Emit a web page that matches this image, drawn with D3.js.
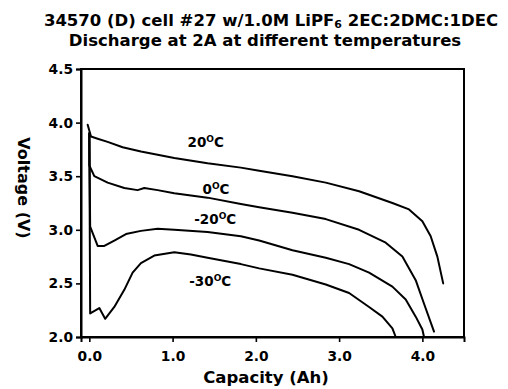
<!DOCTYPE html>
<html>
<head>
<meta charset="utf-8">
<script src="https://cdn.jsdelivr.net/npm/d3@7"></script>
<style>
  html, body { margin: 0; padding: 0; background: #fff; }
  text { font-family: "DejaVu Sans", sans-serif; font-weight: bold; fill: #000; }
</style>
</head>
<body>
<svg id="chart" width="508" height="389"></svg>
<script>
// ---- data ----
const cap20 = [-0.02, 0.02, 0.10, 0.22, 0.40, 0.62, 1.02, 1.42, 1.82, 2.04, 2.44, 2.84, 3.24, 3.64, 3.84, 4.00, 4.10, 4.18, 4.25];
const v20   = [3.98, 3.87, 3.85, 3.82, 3.77, 3.73, 3.67, 3.62, 3.58, 3.55, 3.50, 3.44, 3.36, 3.25, 3.19, 3.08, 2.94, 2.75, 2.50];

const cap0  = [0.00, 0.00, 0.06, 0.22, 0.42, 0.58, 0.66, 0.82, 1.02, 1.42, 1.82, 2.04, 2.44, 2.84, 3.24, 3.56, 3.76, 3.92, 4.02, 4.14];
const v0    = [3.90, 3.60, 3.50, 3.44, 3.39, 3.37, 3.39, 3.37, 3.34, 3.30, 3.24, 3.21, 3.16, 3.10, 3.00, 2.88, 2.75, 2.53, 2.31, 2.05];

const capM20 = [0.00, 0.01, 0.10, 0.18, 0.30, 0.44, 0.62, 0.82, 1.02, 1.42, 1.82, 2.04, 2.44, 2.84, 3.12, 3.36, 3.64, 3.80, 3.92, 4.00, 4.02];
const vM20   = [3.90, 3.03, 2.85, 2.85, 2.90, 2.96, 2.99, 3.01, 3.00, 2.98, 2.94, 2.90, 2.81, 2.74, 2.68, 2.60, 2.47, 2.35, 2.19, 2.07, 2.00];

const capM30 = [0.00, 0.01, 0.12, 0.19, 0.30, 0.42, 0.52, 0.62, 0.78, 1.02, 1.22, 1.42, 1.82, 2.04, 2.44, 2.84, 3.12, 3.36, 3.52, 3.64, 3.68];
const vM30   = [3.90, 2.22, 2.27, 2.17, 2.28, 2.44, 2.60, 2.69, 2.76, 2.79, 2.77, 2.74, 2.68, 2.64, 2.58, 2.49, 2.41, 2.28, 2.19, 2.08, 2.00];

const seriesNames = ["20", "0", "-20", "-30"];
const labelCap = [1.18, 1.36, 1.26, 1.20];
const labelVolt = [3.77, 3.33, 3.05, 2.48];

const xTicks = [0, 1, 2, 3, 4];
const yTicks = [2.0, 2.5, 3.0, 3.5, 4.0, 4.5];
const xDomain = [-0.1, 4.5];
const yDomain = [2.0, 4.5];

// ---- drawing ----
const svg = d3.select("#chart");
const plotLeft = 81, plotRight = 464, plotTop = 69, plotBottom = 337;

const x = d3.scaleLinear().domain(xDomain).range([plotLeft, plotRight]);
const y = d3.scaleLinear().domain(yDomain).range([plotBottom, plotTop]);

// frame
svg.append("rect")
  .attr("x", plotLeft).attr("y", plotTop)
  .attr("width", plotRight - plotLeft).attr("height", plotBottom - plotTop)
  .attr("fill", "none").attr("stroke", "#000").attr("stroke-width", 2);

// axes
const yAxis = d3.axisLeft(y).tickValues(yTicks).tickFormat(d3.format(".1f")).tickSize(5).tickPadding(3);
const xAxis = d3.axisBottom(x).tickValues(xTicks).tickFormat(d3.format(".1f")).tickSize(5).tickPadding(9);

const gy = svg.append("g").attr("transform", `translate(${plotLeft},0)`).call(yAxis);
const gx = svg.append("g").attr("transform", `translate(0,${plotBottom})`).call(xAxis);
[gx, gy].forEach(g => {
  g.select(".domain").attr("stroke", "#000").attr("stroke-width", 2);
  g.selectAll(".tick line").attr("stroke", "#000").attr("stroke-width", 1.6);
  g.selectAll(".tick text").style("font-family", "'DejaVu Sans', sans-serif")
    .style("font-weight", "bold").style("font-size", "13.8px").attr("fill", "#000");
});

// curves
const series = [
  { name: seriesNames[0], cap: cap20, v: v20 },
  { name: seriesNames[1], cap: cap0, v: v0 },
  { name: seriesNames[2], cap: capM20, v: vM20 },
  { name: seriesNames[3], cap: capM30, v: vM30 }
];
const line = d3.line().x(d => x(d[0])).y(d => y(d[1])).curve(d3.curveLinear);
svg.append("g").selectAll("path").data(series).join("path")
  .attr("d", s => line(s.cap.map((c, i) => [c, s.v[i]])))
  .attr("fill", "none").attr("stroke", "#000").attr("stroke-width", 2)
  .attr("stroke-linejoin", "round").attr("stroke-linecap", "round");

// temperature labels
series.forEach((s, i) => {
  const t = svg.append("text")
    .attr("x", x(labelCap[i])).attr("y", y(labelVolt[i]))
    .style("font-size", "13.5px");
  t.append("tspan").text(s.name);
  t.append("tspan").text("O").style("font-size", "9px").attr("dy", -5);
  t.append("tspan").text("C").attr("dy", 5);
});

// titles
const t1 = svg.append("text").attr("x", 271).attr("y", 26)
  .attr("text-anchor", "middle").style("font-size", "16.5px");
t1.append("tspan").text("34570 (D) cell #27 w/1.0M LiPF");
t1.append("tspan").text("6").style("font-size", "11px").attr("dy", 2);
t1.append("tspan").text(" 2EC:2DMC:1DEC").attr("dy", -2);

svg.append("text").attr("x", 265).attr("y", 46)
  .attr("text-anchor", "middle").style("font-size", "16.5px")
  .text("Discharge at 2A at different temperatures");

// axis titles
svg.append("text").attr("x", 266).attr("y", 383)
  .attr("text-anchor", "middle").style("font-size", "16.5px")
  .text("Capacity (Ah)");

svg.append("text")
  .attr("transform", "translate(18,188) rotate(90)")
  .attr("text-anchor", "middle").style("font-size", "16px")
  .text("Voltage (V)");
</script>
</body>
</html>
